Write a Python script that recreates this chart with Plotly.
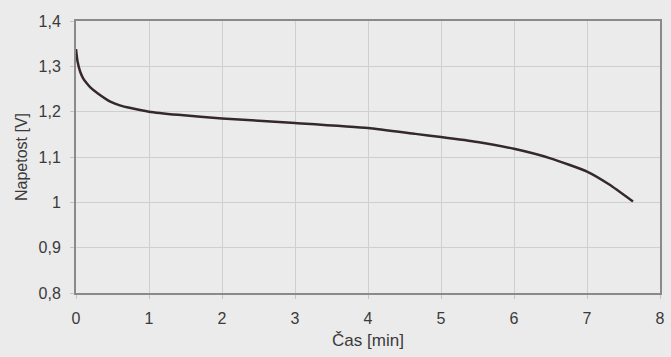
import plotly.graph_objects as go

# Discharge curve
cas_min = [0.0, 0.02, 0.06, 0.1, 0.15, 0.2, 0.3, 0.47, 0.6, 0.75, 1.0, 1.4,
           2.0, 3.0, 4.0, 4.65, 5.0, 5.5, 6.0, 6.5, 7.0, 7.3, 7.63]
napetost_v = [1.338, 1.312, 1.287, 1.273, 1.262, 1.253, 1.240, 1.222, 1.214,
              1.208, 1.200, 1.193, 1.185, 1.175, 1.164, 1.151, 1.144, 1.133,
              1.118, 1.097, 1.068, 1.040, 1.002]

x_ticks = [0, 1, 2, 3, 4, 5, 6, 7, 8]
y_ticks = [0.8, 0.9, 1.0, 1.1, 1.2, 1.3, 1.4]

fig = go.Figure()
fig.add_trace(go.Scatter(
    x=cas_min, y=napetost_v, mode="lines",
    line=dict(color="#35282a", width=2.5, shape="spline", smoothing=0.5),
    showlegend=False, hoverinfo="skip",
))

font_family = "Liberation Sans, Arial, sans-serif"
fig.update_layout(
    width=671, height=357,
    margin=dict(l=76, r=6, t=21, b=64),
    paper_bgcolor="#ebebeb", plot_bgcolor="#ebebeb",
    separators=", ",
    font=dict(family=font_family, size=16, color="#3a3a3a"),
    xaxis=dict(
        range=[0, 8], tickvals=x_ticks, showgrid=True, gridcolor="#cfcfcf",
        gridwidth=1, zeroline=False, showline=True, linecolor="#8a8a8a",
        linewidth=2, mirror=True, ticks="outside", ticklen=4,
        tickcolor="#c4c4c4", ticklabeloverflow="allow", ticklabelstandoff=6,
        title=dict(text="Čas [min]", font=dict(size=17), standoff=8),
        tickfont=dict(size=16),
    ),
    yaxis=dict(
        range=[0.8, 1.4], tickvals=y_ticks, showgrid=True, gridcolor="#cfcfcf",
        gridwidth=1, zeroline=False, showline=True, linecolor="#8a8a8a",
        linewidth=2, mirror=True, ticks="outside", ticklen=4,
        tickcolor="#c4c4c4", ticklabelstandoff=6,
        title=dict(text="Napetost [V]", font=dict(size=16), standoff=7),
        tickfont=dict(size=16),
    ),
)

fig.write_html(
    "out.html",
    config={"displayModeBar": False},
    post_script="document.body.style.margin='0';document.body.style.background='#ebebeb';",
)
